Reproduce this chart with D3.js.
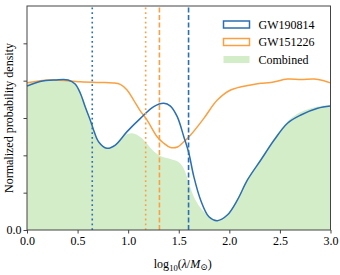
<!DOCTYPE html>
<html>
  <head>
    <style>
      body { margin: 0; background: #fff; }
      svg text { font-family: "Liberation Serif", "Times New Roman", Times, "DejaVu Serif", serif !important; fill: #000; }
      .axis path, .axis line { stroke: #444; }
    </style>
  </head>
  <body>
    <script src="https://d3js.org/d3.v7.min.js"></script>
    <script>
      var width = 340;
      var height = 275;
      var margin = { top: 6, right: 10, bottom: 45, left: 27 };

      // GW190814 curve
      var blueX = [0, 0.129, 0.278, 0.407, 0.476, 0.526, 0.575, 0.625, 0.658, 0.707, 0.79, 0.873, 0.989, 1.121, 1.253, 1.352, 1.418, 1.485, 1.55, 1.6, 1.649, 1.716, 1.798, 1.881, 1.98, 2.08, 2.179, 2.311, 2.443, 2.575, 2.707, 2.873, 3.0];
      var blueY = [0.771, 0.796, 0.804, 0.804, 0.782, 0.734, 0.66, 0.589, 0.536, 0.473, 0.438, 0.455, 0.527, 0.598, 0.661, 0.679, 0.664, 0.607, 0.5, 0.411, 0.286, 0.161, 0.071, 0.05, 0.08, 0.161, 0.268, 0.375, 0.482, 0.572, 0.616, 0.652, 0.664];

      // GW151226 curve
      var orangeX = [0, 0.228, 0.526, 0.724, 0.853, 0.922, 0.989, 1.054, 1.121, 1.187, 1.286, 1.349, 1.418, 1.488, 1.537, 1.617, 1.748, 1.881, 2.013, 2.212, 2.311, 2.41, 2.575, 2.707, 2.839, 2.926, 3.0];
      var orangeY = [0.789, 0.804, 0.794, 0.79, 0.788, 0.78, 0.75, 0.696, 0.637, 0.589, 0.5, 0.466, 0.442, 0.445, 0.466, 0.509, 0.598, 0.696, 0.75, 0.777, 0.786, 0.79, 0.809, 0.806, 0.809, 0.801, 0.788];

      // Combined (filled)
      var combX = [0, 0.129, 0.278, 0.407, 0.476, 0.545, 0.605, 0.655, 0.704, 0.783, 0.853, 0.922, 0.992, 1.051, 1.121, 1.18, 1.24, 1.319, 1.418, 1.498, 1.547, 1.597, 1.646, 1.716, 1.795, 1.874, 1.974, 2.073, 2.172, 2.311, 2.44, 2.579, 2.707, 2.876, 3.0];
      var combY = [0.782, 0.798, 0.806, 0.804, 0.782, 0.718, 0.621, 0.536, 0.477, 0.439, 0.445, 0.482, 0.514, 0.517, 0.498, 0.466, 0.429, 0.396, 0.38, 0.364, 0.332, 0.257, 0.182, 0.118, 0.075, 0.048, 0.08, 0.161, 0.268, 0.375, 0.487, 0.584, 0.632, 0.662, 0.67];

      // vertical reference lines
      var vlines = [
        { x: 0.645, color: "#2a6fb3", dash: "1.8,3" },
        { x: 1.173, color: "#fba040", dash: "1.8,3" },
        { x: 1.309, color: "#fba040", dash: "5,2.5" },
        { x: 1.597, color: "#2a6fb3", dash: "5,2.5" }
      ];

      var xTicks = [0, 0.5, 1.0, 1.5, 2.0, 2.5, 3.0];
      var yTicks = [0, 0.2, 0.4, 0.6, 0.8, 1.0];

      var legendItems = [
        { label: "GW190814", stroke: "#2a6fb3", fill: "#fff" },
        { label: "GW151226", stroke: "#fba040", fill: "#fff" },
        { label: "Combined", stroke: "none", fill: "#d4edc9" }
      ];

      var svg = d3.select("body")
        .append("svg")
        .attr("width", width)
        .attr("height", height);

      var x = d3.scaleLinear().domain([0, 3]).range([margin.left, width - margin.right + 0.5]);
      var y = d3.scaleLinear().domain([0, 1.2]).range([height - margin.bottom, margin.top]);

      function pts(xs, ys) {
        return xs.map(function(d, i) { return [d, ys[i]]; });
      }

      svg.append("path")
        .datum(pts(combX, combY))
        .attr("fill", "#d4edc9")
        .attr("d", d3.area()
          .x(function(d) { return x(d[0]); })
          .y0(y(0))
          .y1(function(d) { return y(d[1]); })
          .curve(d3.curveCatmullRom));

      var line = d3.line()
        .x(function(d) { return x(d[0]); })
        .y(function(d) { return y(d[1]); })
        .curve(d3.curveCatmullRom);

      svg.append("path")
        .datum(pts(orangeX, orangeY))
        .attr("fill", "none")
        .attr("stroke", "#fba040")
        .attr("stroke-width", 1.5)
        .attr("d", line);

      svg.append("path")
        .datum(pts(blueX, blueY))
        .attr("fill", "none")
        .attr("stroke", "#2a6fb3")
        .attr("stroke-width", 1.5)
        .attr("d", line);

      svg.selectAll(".vline")
        .data(vlines)
        .enter().append("line")
        .attr("class", "vline")
        .attr("x1", function(d) { return x(d.x); })
        .attr("x2", function(d) { return x(d.x); })
        .attr("y1", y(0))
        .attr("y2", y(1.2))
        .attr("stroke", function(d) { return d.color; })
        .attr("stroke-width", 1.6)
        .attr("stroke-dasharray", function(d) { return d.dash; });

      // frame
      svg.append("rect")
        .attr("x", x(0))
        .attr("y", y(1.2))
        .attr("width", x(3) - x(0))
        .attr("height", y(0) - y(1.2))
        .attr("fill", "none")
        .attr("stroke", "#444")
        .attr("stroke-width", 1);

      svg.append("g")
        .attr("class", "axis")
        .attr("transform", "translate(0," + y(0) + ")")
        .call(d3.axisBottom(x).tickValues(xTicks).tickSize(3.5).tickPadding(3).tickFormat(d3.format(".1f")));

      svg.append("g")
        .attr("class", "axis")
        .attr("transform", "translate(" + x(0) + ",0)")
        .call(d3.axisLeft(y).tickValues(yTicks).tickSize(3.5).tickPadding(2)
          .tickFormat(function(d) { return d === 0 ? "0.0" : ""; }));

      svg.selectAll(".axis .domain").remove();
      svg.selectAll(".axis").attr("font-family", null).attr("font-size", 12);

      svg.append("text")
        .attr("x", (x(0) + x(3)) / 2 + 4)
        .attr("y", 268)
        .attr("text-anchor", "middle")
        .attr("font-size", 12)
        .html("log<tspan font-size='8.5' dy='3'>10</tspan><tspan dy='-3'>(</tspan><tspan font-style='italic'>λ</tspan>/<tspan font-style='italic'>M</tspan><tspan font-size='9' dy='2'>⊙</tspan><tspan dy='-2'>)</tspan>");

      svg.append("text")
        .attr("transform", "translate(13," + ((y(0) + y(1.2)) / 2) + ") rotate(-90)")
        .attr("text-anchor", "middle")
        .attr("font-size", 12)
        .text("Normalized probability density");

      var legend = svg.append("g");
      legendItems.forEach(function(d, i) {
        var ly = 21 + i * 17.5;
        legend.append("rect")
          .attr("x", 223.5)
          .attr("y", ly)
          .attr("width", 26)
          .attr("height", 7)
          .attr("fill", d.fill)
          .attr("stroke", d.stroke)
          .attr("stroke-width", 1.5);
        legend.append("text")
          .attr("x", 258.5)
          .attr("y", ly + 7.5)
          .attr("font-size", 12)
          .text(d.label);
      });
    </script>
  </body>
</html>
